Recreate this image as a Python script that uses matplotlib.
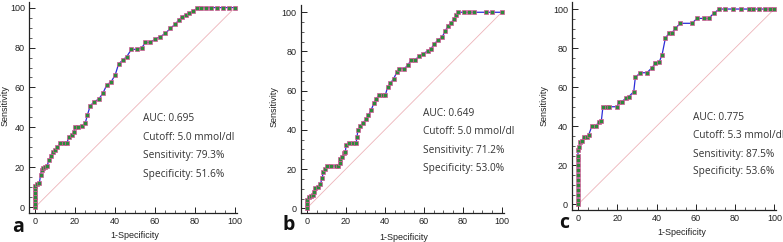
import matplotlib
matplotlib.use("Agg")
import matplotlib.pyplot as plt
from matplotlib.ticker import MultipleLocator

# ---- data ----
a_fpr = [0, 0, 0, 0, 0, 0, 0, 1.2, 2.2, 2.8, 3.3, 3.8, 5.0, 5.9, 7.2, 7.9, 8.9, 10.0, 11.2,
         12.5, 14.5, 15.9, 17.0, 18.4, 19.6, 20.1, 21.7, 23.4, 25.1, 26.2, 27.6, 29.6,
         31.8, 33.9, 35.9, 38.1, 40.1, 41.8, 44.0, 45.9, 48.2, 51.0, 53.5, 55.2, 57.7,
         60.2, 62.7, 65.2, 67.7, 70.2, 71.9, 73.6, 75.3, 76.9, 79.1, 81.1, 82.8, 85.5,
         88.0, 91.0, 94.0, 97.0, 100]
a_tpr = [0, 1.8, 3.6, 5.4, 7.2, 9.0, 10.8, 11.5, 12.3, 16.2, 18.7, 19.9, 20.0, 20.7, 23.7,
         25.9, 27.9, 28.7, 30.0, 32.0, 32.0, 32.0, 35.4, 36.2, 37.9, 40.4, 40.4, 40.7,
         42.0, 46.2, 50.8, 52.9, 54.1, 57.0, 61.3, 62.9, 66.3, 71.8, 73.8, 75.5, 79.1,
         79.1, 80.0, 82.6, 82.6, 84.3, 85.5, 87.1, 89.6, 91.8, 93.8, 95.5, 96.3, 97.2,
         98.3, 99.7, 100, 100, 100, 100, 100, 100, 100]

b_fpr = [0, 0, 0, 0.9, 2.2, 3.1, 3.6, 4.4, 5.6, 7.0, 7.9, 8.5, 9.4, 10.4, 12.5, 15.0,
         16.2, 16.9, 17.3, 18.1, 19.3, 19.8, 20.2, 21.5, 23.6, 25.3, 25.8, 26.2, 27.5,
         28.7, 30.4, 31.6, 33.0, 34.4, 35.6, 37.3, 39.0, 40.3, 41.5, 42.9, 44.6, 46.3,
         47.5, 50.1, 51.8, 53.5, 55.6, 57.8, 59.8, 62.1, 63.8, 65.5, 67.2, 69.4, 71.1,
         72.3, 74.0, 75.7, 76.6, 77.8, 80.5, 83.0, 86.0, 92.0, 95.0, 100]
b_tpr = [0, 2.1, 4.2, 5.9, 6.3, 6.8, 8.5, 10.2, 11.0, 12.4, 15.3, 18.7, 20.0, 21.6, 21.6,
         21.6, 21.6, 22.9, 25.0, 26.3, 28.0, 28.9, 32.3, 33.1, 33.1, 33.4, 36.5, 39.9,
         41.9, 43.6, 45.3, 47.5, 50.1, 53.5, 56.0, 57.7, 57.7, 57.7, 62.0, 63.7, 66.2,
         69.6, 71.3, 71.3, 73.0, 75.6, 75.9, 77.6, 78.9, 80.3, 81.5, 84.0, 85.7, 87.4,
         90.5, 92.9, 94.6, 96.8, 98.5, 100, 100, 100, 100, 100, 100, 100]

c_fpr = [0, 0, 0, 0, 0, 0, 0, 0, 0, 0, 0, 0, 0.7, 1.2, 2.0, 2.9, 4.6, 5.4, 7.1, 9.2, 10.5,
         11.9, 12.7, 14.8, 16.0, 19.9, 20.7, 22.4, 24.6, 25.8, 28.4, 29.2, 31.7, 35.1,
         37.7, 39.4, 41.4, 42.8, 44.5, 46.2, 47.9, 49.6, 52.1, 58.1, 60.6, 64.0, 66.6,
         69.1, 72.0, 75.0, 79.0, 83.0, 87.0, 89.0, 92.0, 95.0, 98.0, 100]
c_tpr = [0, 2.5, 5.0, 7.5, 10.0, 12.5, 15.0, 17.5, 20.0, 22.5, 25.0, 27.8, 29.5, 32.1,
         32.4, 34.6, 34.6, 35.5, 40.1, 40.1, 42.3, 42.8, 50.0, 50.0, 50.0, 50.0, 52.2,
         52.6, 54.6, 55.1, 57.7, 65.0, 67.4, 67.4, 70.0, 72.2, 73.0, 76.5, 85.0, 87.5,
         87.9, 90.1, 92.7, 92.7, 95.2, 95.2, 95.2, 97.8, 100, 100, 100, 100, 100, 100,
         100, 100, 100, 100]

panel_letters = ["a", "b", "c"]
annotations = [
    ["AUC: 0.695", "Cutoff: 5.0 mmol/dl", "Sensitivity: 79.3%", "Specificity: 51.6%"],
    ["AUC: 0.649", "Cutoff: 5.0 mmol/dl", "Sensitivity: 71.2%", "Specificity: 53.0%"],
    ["AUC: 0.775", "Cutoff: 5.3 mmol/dl", "Sensitivity: 87.5%", "Specificity: 53.6%"],
]
x_label = "1-Specificity"
y_label = "Sensitivity"
ticks = [0, 20, 40, 60, 80, 100]

# ---- layout (pixels) ----
W, H = 783, 242
fig = plt.figure(figsize=(W / 100, H / 100), dpi=100)
plt.rcParams["font.family"] = ["Liberation Sans", "DejaVu Sans"]


def px_axes(left, right, top, bottom):
    return fig.add_axes([left / W, (H - bottom) / H, (right - left) / W, (bottom - top) / H])


panels = [
    dict(box=(29, 237, 1.6, 213.3), ylim=(-3, 103), xlim=(-3, 101),
         ann=(54, [44.4, 35.2, 25.7, 16.5]), letter=(11.7, 231.5),
         ylab=(5, 106), xlab=(135, 235), data=(a_fpr, a_tpr)),
    dict(box=(300.9, 503.7, 5.4, 213.4), ylim=(-2.6, 103.5), xlim=(-3, 101),
         ann=(59.8, [48.5, 39.1, 29.4, 20.1]), letter=(282.7, 230),
         ylab=(274.3, 107), xlab=(404, 237.5), data=(b_fpr, b_tpr)),
    dict(box=(572.1, 776.3, 2.2, 210.3), ylim=(-3, 103.5), xlim=(-3, 101),
         ann=(58.4, [44.5, 35.1, 25.7, 16.7]), letter=(559, 227.5),
         ylab=(543.7, 106), xlab=(682, 232.5), data=(c_fpr, c_tpr)),
]

for i, p in enumerate(panels):
    ax = px_axes(*p["box"])
    ax.set_xlim(*p["xlim"])
    ax.set_ylim(*p["ylim"])
    ax.plot([0, 100], [0, 100], color="#edb3b9", lw=0.6, zorder=1)
    fx, ty = p["data"]
    ax.plot(fx, ty, color="#2c2cd8", lw=0.9, marker="s", markersize=2.3,
            markerfacecolor="#2f8a3c", markeredgecolor="#d8559a", markeredgewidth=0.5,
            zorder=3, clip_on=False)
    for s in ["top", "right"]:
        ax.spines[s].set_visible(False)
    for s in ["left", "bottom"]:
        ax.spines[s].set_linewidth(0.9)
        ax.spines[s].set_color("#222222")
    ax.set_xticks(ticks)
    ax.set_yticks(ticks)
    ax.xaxis.set_minor_locator(MultipleLocator(5))
    ax.yaxis.set_minor_locator(MultipleLocator(5))
    ax.tick_params(which="major", direction="in", length=4.3, width=0.7,
                   labelsize=6.5, colors="#222222")
    ax.tick_params(which="minor", direction="in", length=2.2, width=0.6, colors="#444444")
    ax.tick_params(axis="x", pad=2.8)
    ax.tick_params(axis="y", pad=3.0)
    ax.patch.set_alpha(0)
    tx, tys = p["ann"]
    for line, yy in zip(annotations[i], tys):
        ax.text(tx, yy, line, fontsize=7.3, family=["Open Sans", "DejaVu Sans"],
                color="#333333", va="center", ha="left", clip_on=False)
    lx, ly = p["letter"]
    fig.text(lx / W, (H - ly) / H, panel_letters[i], fontsize=14, fontweight="bold",
             family=["Open Sans", "DejaVu Sans"], va="baseline", ha="left", color="#111111")
    yx, yy = p["ylab"]
    fig.text(yx / W, (H - yy) / H, y_label, rotation=90, fontsize=6.5,
             va="center", ha="center", color="#222222")
    xx, xy = p["xlab"]
    fig.text(xx / W, (H - xy) / H, x_label, fontsize=6.5,
             va="center", ha="center", color="#222222")

fig.savefig("out.png", dpi=100)
